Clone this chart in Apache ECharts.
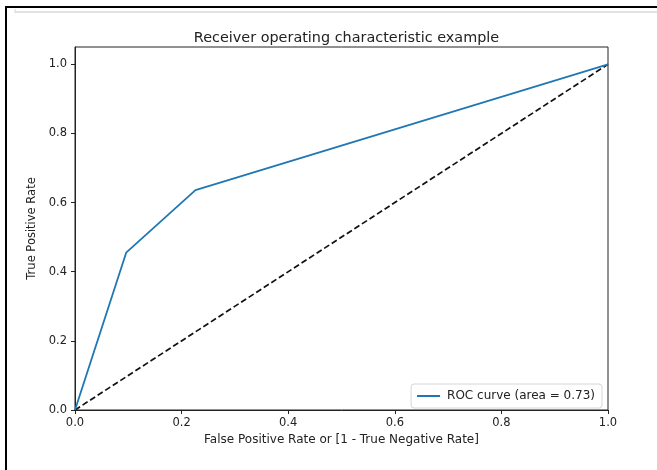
<!DOCTYPE html>
<html>
<head>
<meta charset="utf-8">
<script src="https://cdn.jsdelivr.net/npm/echarts@6/dist/echarts.min.js"></script>
<style>
html,body{margin:0;padding:0;background:#fff;}
#c{width:657px;height:470px;}
</style>
</head>
<body>
<div id="c"></div>
<script>
var titleText = 'Receiver operating characteristic example';
var xName = 'False Positive Rate or [1 - True Negative Rate]';
var yName = 'True Positive Rate';
var rocName = 'ROC curve (area = 0.73)';
var fpr = [0.0, 0.096, 0.226, 1.0];
var tpr = [0.0, 0.455, 0.636, 1.0];
var chanceX = [0.0, 1.0];
var chanceY = [0.0, 1.0];
var tickValues = [0, 0.2, 0.4, 0.6, 0.8, 1.0];

var font = 'DejaVu Sans';
var chart = echarts.init(document.getElementById('c'), null, {renderer: 'canvas'});
chart.setOption({
  animation: false,
  backgroundColor: '#fff',
  title: {
    text: titleText,
    left: 341.5, top: 26, textAlign: 'center',
    textStyle: {fontFamily: font, fontSize: 14.4, fontWeight: 'normal', color: '#222'}
  },
  grid: {left: 75, right: 49, top: 47, bottom: 60, show: true, borderColor: '#222', borderWidth: 1, backgroundColor: 'transparent'},
  legend: {
    right: 55, bottom: 62,
    data: [{name: rocName, icon: 'rect', itemStyle: {color: '#1f77b4'}}],
    orient: 'vertical',
    backgroundColor: '#fff',
    borderColor: '#d6d6d6', borderWidth: 1, borderRadius: 3,
    padding: [6, 7, 6, 6],
    itemWidth: 23, itemHeight: 2, itemGap: 8,
    textStyle: {fontFamily: font, fontSize: 12, color: '#222', padding: [0, 0, 0, 2]}
  },
  xAxis: {
    type: 'value', min: 0, max: 1, interval: 0.2,
    name: xName, nameLocation: 'middle', nameGap: 24,
    nameTextStyle: {fontFamily: font, fontSize: 12, color: '#222'},
    axisLine: {show: true, lineStyle: {color: '#222', width: 1}},
    axisTick: {show: true, length: 4, lineStyle: {color: '#222'}},
    axisLabel: {fontFamily: font, fontSize: 11.5, color: '#222', margin: 7,
      formatter: function (v) { return v.toFixed(1); }},
    splitLine: {show: false}
  },
  yAxis: {
    type: 'value', min: 0, max: 1.05,
    name: yName, nameLocation: 'middle', nameGap: 35, nameRotate: 90,
    nameTextStyle: {fontFamily: font, fontSize: 11.5, color: '#222'},
    axisLine: {show: true, lineStyle: {color: '#222', width: 1}},
    axisTick: {show: true, length: 4, lineStyle: {color: '#222'}, customValues: tickValues},
    axisLabel: {fontFamily: font, fontSize: 11.5, color: '#222', margin: 8, customValues: tickValues,
      formatter: function (v) { return v.toFixed(1); }},
    splitLine: {show: false}
  },
  series: [
    {
      name: rocName, type: 'line', symbol: 'none',
      data: fpr.map(function (x, i) { return [x, tpr[i]]; }),
      lineStyle: {color: '#1f77b4', width: 1.8},
      itemStyle: {color: '#1f77b4'},
      z: 3
    },
    {
      name: 'chance', type: 'line', symbol: 'none',
      data: chanceX.map(function (x, i) { return [x, chanceY[i]]; }),
      lineStyle: {color: '#111', width: 1.7, type: [6, 3]},
      itemStyle: {color: '#111'},
      z: 2
    }
  ],
  graphic: [
    {type: 'rect', shape: {x: 5, y: 6, width: 652, height: 2}, style: {fill: '#000'}, silent: true},
    {type: 'rect', shape: {x: 5, y: 6, width: 2, height: 464}, style: {fill: '#000'}, silent: true},
    {type: 'line', shape: {x1: 15, y1: 12, x2: 657, y2: 12}, style: {stroke: '#d8d8d8', lineWidth: 1.5}, silent: true},
    {type: 'line', shape: {x1: 15, y1: 9, x2: 15, y2: 13}, style: {stroke: '#d8d8d8', lineWidth: 1}, silent: true}
  ]
});
</script>
</body>
</html>
